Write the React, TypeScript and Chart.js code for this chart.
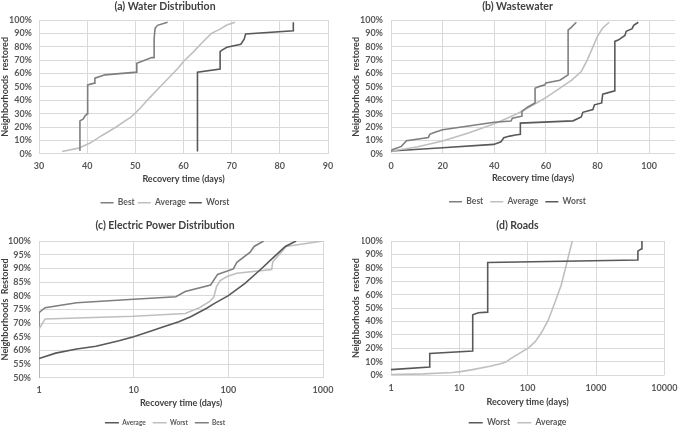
import React, { useEffect, useRef } from 'react';
import { Chart, registerables } from 'chart.js';

Chart.register(...registerables);

type Pt = [number, number];

const FONT = 'Lato';
const GRID = '#d9d9d9';
const C_BEST = '#7f7f7f';
const C_AVG = '#bfbfbf';
const C_WORST = '#595959';
const TEXT = '#595959';
const TITLE = '#404040';
const TICK_SIZE = 9;
const TITLE_SIZE = 10.5;
const AXIS_TITLE_SIZE = 9;

// (a) Water Distribution
const waterXTicks = [30, 40, 50, 60, 70, 80, 90];
const waterBest: Pt[] = [[38.5, 2], [38.5, 24.6], [39.2, 26], [39.5, 28], [40, 29.8], [40.1, 51.5], [41.5, 52.8], [41.6, 56.5], [43.7, 59], [50.3, 61], [50.3, 67.7], [53.4, 71.9], [53.9, 71.9], [53.9, 86], [54.1, 93.8], [54.6, 96], [56.7, 98.3]];
const waterAverage: Pt[] = [[34.8, 1.7], [38.2, 4.2], [40.6, 8], [43, 13.5], [46, 20], [49.2, 27.8], [51, 34], [53, 42], [55, 49.5], [57, 57], [59, 64.5], [60, 69], [62, 76], [64, 83.5], [65.8, 90], [67.5, 93], [69, 96.3], [70.7, 98.3]];
const waterWorst: Pt[] = [[62.9, 1.7], [62.9, 61], [67.6, 63.4], [67.6, 76.3], [68, 77.5], [69, 79.6], [71.9, 81.9], [72.6, 85.6], [72.9, 89.6], [82.8, 92], [82.8, 98.3]];

// (b) Wastewater
const wasteXTicks = [0, 20, 40, 60, 80, 100];
const wasteBest: Pt[] = [[0, 2], [0.5, 3], [4, 5.5], [6, 9.7], [14.5, 12.2], [15, 14.5], [17, 16], [20, 17.9], [40, 23.5], [46.5, 24.5], [47, 26.6], [50.5, 28], [50.7, 31.6], [53, 35], [55.8, 38], [55.8, 49], [57, 50], [59.6, 51.5], [60, 53], [65.4, 55], [68.6, 59], [68.6, 92.5], [69.8, 94.5], [71.8, 98.3]];
const wasteAverage: Pt[] = [[0, 2], [10, 5], [20, 9.5], [30, 15.5], [40, 22.5], [45, 26.5], [50, 31], [55, 36.5], [60, 42], [65, 48.5], [70, 55], [73.7, 61.5], [76, 70], [78, 79], [80, 88], [82, 94], [84.5, 98.3]];
const wasteWorst: Pt[] = [[0, 2], [20, 4.5], [39.8, 7], [42.6, 9], [43.7, 12], [46, 13.2], [48.2, 14], [50.1, 14.5], [50.1, 22.9], [70.5, 24.6], [73.7, 27.5], [74.3, 31], [78.2, 33], [78.8, 36.6], [81.6, 38], [82, 44.5], [86.7, 47], [86.7, 84], [88, 85], [90.6, 88.5], [91.1, 91.5], [93.4, 93.5], [94, 96], [95.8, 98.3]];

// (c) Electric Power Distribution
const powerXTicks = [1, 10, 100, 1000];
const powerAverage: Pt[] = [[1, 57], [1.5, 59], [2.5, 60.5], [4, 61.5], [7, 63.5], [10, 65], [15, 67], [20, 68.5], [30, 70.5], [40, 72.3], [59, 75.4], [70, 77], [100, 80], [150, 84.5], [216, 89.4], [300, 94], [400, 98], [520, 100]];
const powerWorst: Pt[] = [[1, 50], [1, 67.8], [1.16, 71.5], [10, 72.5], [35, 73.5], [50, 75.7], [63, 77.8], [70, 79.4], [75, 83.3], [82, 85.5], [97, 87], [123, 88.2], [287, 89.6], [295, 92.4], [354, 95.5], [409, 98], [1000, 100]];
const powerBest: Pt[] = [[1, 50], [1, 73.8], [1.16, 75.6], [2.5, 77.4], [10, 78.7], [27.9, 79.6], [35, 81.5], [65, 83.9], [77, 87.8], [85, 88.3], [113, 89.8], [123, 92.2], [170, 95.9], [187, 98], [236, 100]];

// (d) Roads
const roadsXTicks = [1, 10, 100, 1000, 10000];
const roadsWorst: Pt[] = [[1, 4.2], [3.69, 6.2], [3.69, 16.2], [15.7, 18], [15.7, 45], [19, 46.5], [26, 47], [26, 84], [4100, 85.8], [4100, 92.5], [4570, 94], [4700, 96], [4700, 100]];
const roadsAverage: Pt[] = [[1, 0.5], [3, 1], [8, 2], [10.4, 2.7], [15, 4], [28, 6.7], [40, 8.5], [48.5, 10], [55, 12], [104, 20.6], [129, 25], [160, 32], [200, 41], [247, 53.5], [309, 67], [363, 81], [405, 91], [450, 100]];

interface Series { label: string; data: Pt[]; color: string }
interface Panel {
  title: string;
  yTitle: string;
  left: number; top: number; width: number;
  xType: 'linear' | 'logarithmic';
  xMin: number; xMax: number; xTicks: number[];
  yMin: number; yMax: number; yStep: number;
  series: Series[];
  // layout targets (canvas-local pixels)
  plotLeft: number; plotRight: number; plotTop: number; plotBottom: number;
  centerX: number;
  titleY: number; xTickY: number; xTitleY: number; legendY: number;
  yTickRight: number; yTitleX: number;
  legendFont: number; legendPad: number; legendBox: number;
}

const panels: Panel[] = [
  {
    title: '(a) Water Distribution', yTitle: 'Neighborhoods  restored',
    left: 0, top: 0, width: 342,
    xType: 'linear', xMin: 30, xMax: 90, xTicks: waterXTicks,
    yMin: 0, yMax: 100, yStep: 10,
    series: [
      { label: 'Best', data: waterBest, color: C_BEST },
      { label: 'Average', data: waterAverage, color: C_AVG },
      { label: 'Worst', data: waterWorst, color: C_WORST },
    ],
    plotLeft: 39, plotRight: 328, plotTop: 20, plotBottom: 154, centerX: 165,
    titleY: 5, xTickY: 166, xTitleY: 179, legendY: 203,
    yTickRight: 32, yTitleX: 5,
    legendFont: 8.5, legendPad: 3, legendBox: 13,
  },
  {
    title: '(b) Wastewater', yTitle: 'Neighborhoods  restored',
    left: 342, top: 0, width: 343,
    xType: 'linear', xMin: 0, xMax: 110, xTicks: wasteXTicks,
    yMin: 0, yMax: 100, yStep: 10,
    series: [
      { label: 'Best', data: wasteBest, color: C_BEST },
      { label: 'Average', data: wasteAverage, color: C_AVG },
      { label: 'Worst', data: wasteWorst, color: C_WORST },
    ],
    plotLeft: 49, plotRight: 333, plotTop: 20, plotBottom: 154, centerX: 175.5,
    titleY: 5, xTickY: 166, xTitleY: 178.5, legendY: 202,
    yTickRight: 41, yTitleX: 14,
    legendFont: 8.5, legendPad: 7, legendBox: 13,
  },
  {
    title: '(c) Electric Power Distribution', yTitle: 'Neighborhoods  Restored',
    left: 0, top: 213, width: 342,
    xType: 'logarithmic', xMin: 1, xMax: 1000, xTicks: powerXTicks,
    yMin: 50, yMax: 100, yStep: 5,
    series: [
      { label: 'Average', data: powerAverage, color: C_WORST },
      { label: 'Worst', data: powerWorst, color: C_AVG },
      { label: 'Best', data: powerBest, color: C_BEST },
    ],
    plotLeft: 39, plotRight: 323, plotTop: 28, plotBottom: 165, centerX: 165,
    titleY: 13, xTickY: 177, xTitleY: 190.5, legendY: 210,
    yTickRight: 31, yTitleX: 5,
    legendFont: 6.5, legendPad: 7, legendBox: 14,
  },
  {
    title: '(d) Roads', yTitle: 'Neighborhoods  restored',
    left: 342, top: 213, width: 343,
    xType: 'logarithmic', xMin: 1, xMax: 10000, xTicks: roadsXTicks,
    yMin: 0, yMax: 100, yStep: 10,
    series: [
      { label: 'Worst', data: roadsWorst, color: C_WORST },
      { label: 'Average', data: roadsAverage, color: C_AVG },
    ],
    plotLeft: 49, plotRight: 331, plotTop: 28, plotBottom: 162, centerX: 175.5,
    titleY: 13, xTickY: 175, xTitleY: 188.5, legendY: 209.5,
    yTickRight: 41, yTitleX: 14,
    legendFont: 8.5, legendPad: 7, legendBox: 14,
  },
];

function layoutOf(p: Panel) {
  const padLeft = Math.max(0, 2 * p.centerX - p.plotRight);
  const titleTop = Math.max(0, p.titleY - TITLE_SIZE * 0.6);
  const titleBottom = p.plotTop - titleTop - TITLE_SIZE * 1.2;
  const xTickPad = p.xTickY - p.plotBottom - TICK_SIZE * 0.6;
  const legendH = p.legendFont + p.legendPad + 10;
  const legendTop = p.legendY - p.legendPad - p.legendFont / 2;
  const height = Math.round(legendTop + legendH);
  const xHeight = legendTop - p.plotBottom;
  const xTitlePadBottom = Math.max(0, p.plotBottom + xHeight - p.xTitleY - AXIS_TITLE_SIZE * 0.6);
  const yWidth = p.plotLeft - padLeft;
  const yTickPad = p.plotLeft - p.yTickRight;
  const yTitlePad = p.yTitleX - padLeft - AXIS_TITLE_SIZE * 0.6;
  const padRight = p.width - p.plotRight;
  return { padLeft, titleTop, titleBottom, xTickPad, height, xHeight, xTitlePadBottom, yWidth, yTickPad, yTitlePad, padRight };
}

function PanelChart({ p }: { p: Panel }) {
  const ref = useRef<HTMLCanvasElement | null>(null);
  const L = layoutOf(p);
  useEffect(() => {
    if (!ref.current) return;
    const chart = new Chart(ref.current, {
      type: 'line',
      data: {
        datasets: p.series.map((s) => ({
          label: s.label,
          data: s.data.map(([x, y]) => ({ x, y })),
          borderColor: s.color,
          backgroundColor: s.color,
          borderWidth: 1.6,
          pointRadius: 0,
          tension: 0,
          fill: false,
        })),
      },
      options: {
        responsive: false,
        animation: false,
        devicePixelRatio: 1,
        layout: { padding: { left: L.padLeft, right: L.padRight, top: 0, bottom: 0 } },
        plugins: {
          title: {
            display: true,
            text: p.title,
            color: TITLE,
            font: { family: FONT, size: TITLE_SIZE, weight: 'bold' },
            padding: { top: L.titleTop, bottom: L.titleBottom },
          },
          legend: {
            display: true,
            position: 'bottom',
            labels: {
              usePointStyle: true,
              pointStyle: 'line',
              pointStyleWidth: p.legendBox,
              padding: p.legendPad,
              color: TEXT,
              font: { family: FONT, size: p.legendFont, weight: 'bold' },
            },
          },
          tooltip: { enabled: false },
        },
        scales: {
          x: {
            type: p.xType,
            min: p.xMin,
            max: p.xMax,
            border: { display: false },
            grid: { color: GRID, lineWidth: 1, drawTicks: false },
            afterBuildTicks: (scale: any) => {
              scale.ticks = p.xTicks.map((v) => ({ value: v }));
            },
            afterFit: (scale: any) => { scale.height = L.xHeight; },
            ticks: {
              padding: L.xTickPad,
              color: TEXT,
              maxRotation: 0,
              autoSkip: false,
              font: { family: FONT, size: TICK_SIZE, weight: 'bold' },
              callback: (v: any) => String(v),
            },
            title: {
              display: true,
              text: 'Recovery time (days)',
              color: TITLE,
              padding: { top: 0, bottom: L.xTitlePadBottom },
              font: { family: FONT, size: AXIS_TITLE_SIZE, weight: 'bold' },
            },
          },
          y: {
            type: 'linear',
            min: p.yMin,
            max: p.yMax,
            border: { display: false },
            grid: { color: GRID, lineWidth: 1, drawTicks: false },
            afterFit: (scale: any) => { scale.width = L.yWidth; },
            ticks: {
              stepSize: p.yStep,
              autoSkip: false,
              padding: L.yTickPad,
              color: TEXT,
              font: { family: FONT, size: TICK_SIZE, weight: 'bold' },
              callback: (v: any) => `${v}%`,
            },
            title: {
              display: true,
              text: p.yTitle,
              color: TITLE,
              padding: { top: L.yTitlePad, bottom: 0 },
              font: { family: FONT, size: AXIS_TITLE_SIZE, weight: 'bold' },
            },
          },
        },
      } as any,
    });
    return () => chart.destroy();
  }, [p]);
  return (
    <canvas
      ref={ref}
      width={p.width}
      height={L.height}
      style={{ position: 'absolute', left: p.left, top: p.top, width: p.width, height: L.height }}
    />
  );
}

export default function App() {
  return (
    <div style={{ position: 'fixed', left: 0, top: 0, width: 685, height: 426, background: '#ffffff', overflow: 'hidden' }}>
      {panels.map((p, i) => (
        <PanelChart key={i} p={p} />
      ))}
    </div>
  );
}
